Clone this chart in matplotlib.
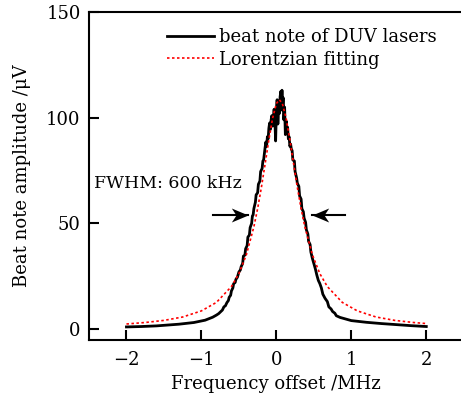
import matplotlib
matplotlib.use('Agg')
import matplotlib.pyplot as plt
from matplotlib.path import Path

plt.rcParams['font.family'] = 'DejaVu Serif'
plt.rcParams['mathtext.fontset'] = 'dejavuserif'

# %% data
freq_beat = [-2.0, -1.8, -1.6, -1.4, -1.3, -1.2, -1.1, -1.0, -0.95, -0.9,
             -0.85, -0.8, -0.77, -0.75, -0.72, -0.7, -0.68, -0.66, -0.64, -0.63,
             -0.61, -0.6, -0.58, -0.57, -0.55, -0.54, -0.52, -0.5, -0.48, -0.47,
             -0.45, -0.44, -0.42, -0.41, -0.39, -0.38, -0.36, -0.35, -0.33, -0.32,
             -0.31, -0.3, -0.28, -0.27, -0.25, -0.24, -0.22, -0.21, -0.19, -0.18,
             -0.17, -0.16, -0.15, -0.14, -0.13, -0.12, -0.11, -0.10, -0.09, -0.08,
             -0.07, -0.06, -0.05, -0.04, -0.03, -0.02, -0.01, 0.0, 0.01, 0.02,
             0.03, 0.04, 0.05, 0.06, 0.07, 0.075, 0.08, 0.09, 0.10, 0.11,
             0.12, 0.13, 0.14, 0.15, 0.16, 0.17, 0.18, 0.19, 0.20, 0.21,
             0.22, 0.24, 0.25, 0.27, 0.28, 0.30, 0.31, 0.33, 0.34, 0.36,
             0.37, 0.39, 0.40, 0.42, 0.43, 0.45, 0.46, 0.48, 0.50, 0.52,
             0.54, 0.56, 0.58, 0.6, 0.62, 0.65, 0.68, 0.7, 0.73, 0.75,
             0.78, 0.8, 0.85, 0.9, 0.95, 1.0, 1.1, 1.2, 1.3, 1.4,
             1.6, 1.8, 2.0]
amp_beat = [1.0, 1.2, 1.5, 2.0, 2.3, 2.7, 3.1, 3.8, 4.2, 4.9,
            5.6, 6.6, 7.3, 8.0, 9.0, 10.5, 11.0, 12.5, 13.5, 15.0,
            16.0, 18.0, 19.5, 21.5, 22.0, 23.5, 24.5, 27.0, 28.0, 29.5,
            31.0, 34.5, 35.0, 38.0, 39.5, 43.5, 44.5, 48.0, 50.0, 53.5,
            54.0, 57.0, 60.0, 63.5, 64.5, 68.5, 70.0, 74.5, 76.0, 79.5,
            80.0, 83.0, 86.0, 88.5, 86.5, 91.0, 90.0, 95.0, 97.5, 94.5,
            99.0, 101.0, 96.0, 100.5, 104.0, 99.0, 89.0, 103.0, 108.5, 97.0,
            104.0, 102.0, 110.0, 112.5, 105.0, 113.0, 103.5, 109.5, 99.0, 105.0,
            92.0, 98.5, 94.5, 95.5, 90.0, 91.0, 86.5, 87.5, 85.0, 84.5,
            80.0, 79.5, 74.5, 71.5, 69.0, 67.5, 63.0, 61.5, 57.0, 55.5,
            52.5, 50.5, 47.0, 45.0, 41.5, 40.0, 36.5, 33.5, 31.0, 28.5,
            25.5, 23.0, 21.5, 19.5, 16.5, 14.5, 13.0, 10.5, 9.5, 8.3,
            7.5, 6.3, 5.5, 5.0, 4.5, 4.0, 3.6, 3.2, 2.9, 2.6,
            2.1, 1.6, 1.2]

freq_fit = [-2.0, -1.75, -1.5, -1.25, -1.0, -0.8, -0.6, -0.5, -0.4, -0.3, -0.25, -0.2, -0.15,
            -0.1, -0.05, 0.0, 0.04, 0.08, 0.13, 0.18, 0.23, 0.28, 0.33, 0.38, 0.48, 0.58, 0.68,
            0.88, 1.08, 1.33, 1.58, 1.83, 2.0]
amp_fit = [2.4, 3.1, 4.1, 5.7, 8.6, 12.6, 20.1, 26.2, 35.2, 48.4, 57.0, 67.0, 78.2,
           89.6, 99.8, 106.7, 108.5, 106.7, 99.8, 89.6, 78.2, 67.0, 57.0, 48.4, 35.2, 26.2, 20.1,
           12.6, 8.6, 5.7, 4.1, 3.1, 2.6]

xticks = [-2, -1, 0, 1, 2]
yticks = [0, 50, 100, 150]

# FWHM arrows: (tail, tip) in MHz at this height
arrow_y = 54
arrow_left = (-0.84, -0.38)
arrow_right = (0.92, 0.47)

# concave arrow head, tip at the origin
head_r = Path([(0, 0), (-1, 0.42), (-0.72, 0), (-1, -0.42), (0, 0)],
              [Path.MOVETO, Path.LINETO, Path.LINETO, Path.LINETO, Path.CLOSEPOLY])
head_l = Path([(0, 0), (1, 0.42), (0.72, 0), (1, -0.42), (0, 0)],
              [Path.MOVETO, Path.LINETO, Path.LINETO, Path.LINETO, Path.CLOSEPOLY])

# %% figure
fig = plt.figure(figsize=(4.61, 4.01), dpi=100)
ax = fig.add_axes([0.193, 0.152, 0.813, 0.818])

ax.plot(freq_beat, amp_beat, color='black', lw=2.0, label='beat note of DUV lasers')
ax.plot(freq_fit, amp_fit, color='red', lw=1.2, ls=(0, (1.5, 1.5)), label='Lorentzian fitting')

ax.set_xlim(-2.5, 2.5)
ax.set_ylim(-5.2, 150)
ax.set_xticks(xticks)
ax.set_yticks(yticks)
ax.tick_params(direction='in', length=7, width=1.5, labelsize=13)
ax.tick_params(axis='x', pad=8)
ax.tick_params(axis='y', pad=6)
for s in ax.spines.values():
    s.set_linewidth(1.5)

ax.set_xlabel('Frequency offset /MHz', fontsize=13, labelpad=4)
ax.set_ylabel('Beat note amplitude /μV', fontsize=13, labelpad=11)

ax.legend(loc='upper left', bbox_to_anchor=(0.165, 1.0), frameon=False, fontsize=13,
          handlelength=2.6, handletextpad=0.3, labelspacing=0.25)

ax.text(-2.43, 69, 'FWHM: 600 kHz', fontsize=12.5, va='center', ha='left')

# arrows: shaft + concave head
ax.plot(arrow_left, [arrow_y, arrow_y], color='black', lw=1.5)
ax.plot([arrow_left[1]], [arrow_y], marker=head_r, ms=24, color='black', mew=0)
ax.plot(arrow_right, [arrow_y, arrow_y], color='black', lw=1.5)
ax.plot([arrow_right[1]], [arrow_y], marker=head_l, ms=24, color='black', mew=0)

fig.savefig('out.png', dpi=100)
